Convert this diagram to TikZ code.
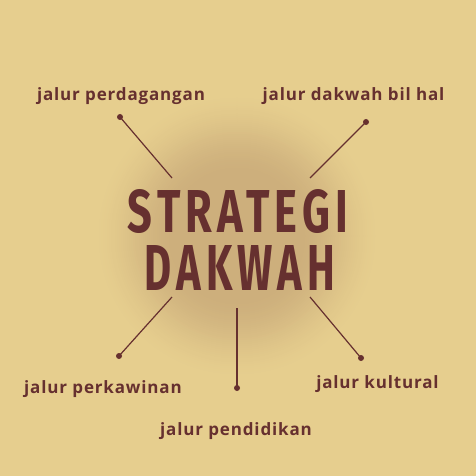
\documentclass[tikz,border=0pt]{standalone}
\usepackage{fontspec}
\setmainfont{Open Sans}
\newfontfamily\judulfont{Fira Sans}
\definecolor{latar}{HTML}{E6CE8E}
\definecolor{cahaya}{HTML}{CDAF7C}
\definecolor{marun}{HTML}{66302F}
\tikzset{
    jalur/.style={text=marun, font=\bfseries\addfontfeatures{LetterSpace=5}\fontsize{17}{19}\selectfont, inner sep=0pt},
    titik/.style={circle, fill=marun, inner sep=0pt, minimum size=6pt},
    garis/.style={draw=marun, line width=1.2pt}
}
\begin{document}
\begin{tikzpicture}[x=1pt, y=-1pt]
    \useasboundingbox (0,0) rectangle (476,476);
    \fill[latar] (0,0) rectangle (476,476);
    % cahaya di tengah
    \foreach \r in {146,144,...,2}{
        \pgfmathsetmacro{\t}{min(1,max(0,(\r-62)/84))}
        \pgfmathsetmacro{\p}{100*(1-\t*\t*(3-2*\t))}
        \fill[cahaya!\p!latar] (237,236) circle (\r);
    }

    % judul
    \node[text=marun, inner sep=0pt] (judul1) at (238,211.5)
        {\resizebox{220pt}{43pt}{\judulfont\bfseries\addfontfeatures{LetterSpace=12}STRATEGI}};
    \node[text=marun, inner sep=0pt] (judul2) at (240,267.5)
        {\resizebox{190pt}{45pt}{\judulfont\bfseries\addfontfeatures{LetterSpace=12}DAKWAH}};

    % label
    \node[jalur] (dagang) at (121,96) {jalur perdagangan};
    \node[jalur] (bilhal) at (353.5,96) {jalur dakwah bil hal};
    \node[jalur] (kawin) at (103,389) {jalur perkawinan};
    \node[jalur] (didik) at (236,431) {jalur pendidikan};
    \node[jalur] (kultur) at (377.5,384) {jalur kultural};

    % titik dan garis
    \node[titik] (t1) at (120,117) {};
    \node[titik] (t2) at (366,122) {};
    \node[titik] (t3) at (119,356) {};
    \node[titik] (t4) at (237,388) {};
    \node[titik] (t5) at (361,358) {};
    \coordinate (u1) at (172,178);
    \coordinate (u2) at (310,178);
    \coordinate (u3) at (172,297);
    \coordinate (u4) at (237,308);
    \coordinate (u5) at (310,297);
    \foreach \i in {1,...,5}
        {\draw[garis] (t\i.center) -- (u\i);}
\end{tikzpicture}
\end{document}
